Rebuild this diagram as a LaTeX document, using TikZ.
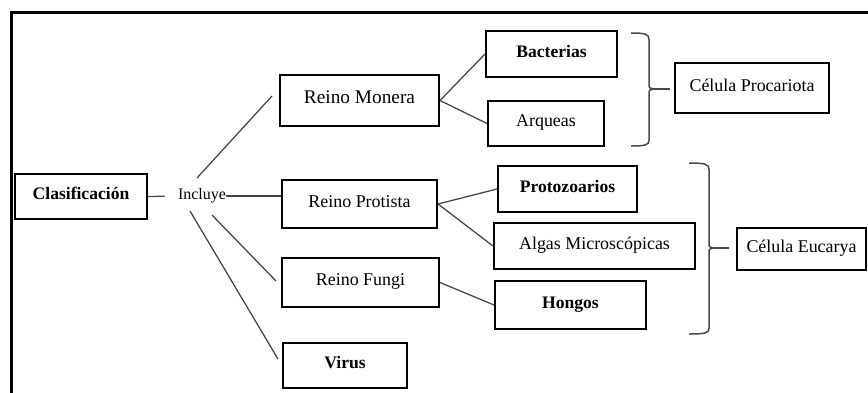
\documentclass[tikz,border=0pt]{standalone}
\usepackage{fontspec}
\setmainfont{Liberation Serif}

\begin{document}
\begin{tikzpicture}
    \definecolor{line_gray}{HTML}{444444}
    \definecolor{brace_gray}{HTML}{4a4a4a}
    \tikzset{
        box/.style={draw=black, line width=0.04cm, inner sep=0pt, text height=1.5ex, text depth=0.7ex, font=\fontsize{10.2}{12}\selectfont},
        boldbox/.style={box, font=\fontsize{10}{12}\selectfont\bfseries},
        link/.style={draw=line_gray, line width=0.025cm},
        curly/.style={draw=brace_gray, line width=0.03cm},
    }
    %\draw[help lines] (0,0) grid (17,7);
    \useasboundingbox (0,0) rectangle (17.36,7.84);

    % outer frame
    \draw[line width=0.06cm] (0.22,-0.1) -- (0.22,7.6) -- (17.5,7.6);

    \node[boldbox, minimum width=2.64cm, minimum height=0.90cm] (clas) at (1.62,3.91) {Clasificación};
    \node[inner sep=0pt, font=\fontsize{9.1}{11}\selectfont] (incl) at (4.04,3.92) {Incluye};

    \node[box, minimum width=3.18cm, minimum height=1.02cm, font=\fontsize{11}{13}\selectfont] (monera) at (7.19,5.83) {Reino Monera};
    \node[box, minimum width=3.10cm, minimum height=0.96cm] (protista) at (7.19,3.76) {Reino Protista};
    \node[box, minimum width=3.14cm, minimum height=0.98cm] (fungi) at (7.21,2.19) {Reino Fungi};
    \node[boldbox, minimum width=2.48cm, minimum height=0.90cm] (virus) at (6.90,0.53) {Virus};

    \node[boldbox, minimum width=2.62cm, minimum height=0.92cm] (bacterias) at (11.03,6.76) {Bacterias};
    \node[box, minimum width=2.32cm, minimum height=0.90cm] (arqueas) at (10.92,5.37) {Arqueas};
    \node[boldbox, minimum width=2.78cm, minimum height=0.92cm] (protozoarios) at (11.35,4.06) {Protozoarios};
    \node[box, minimum width=4.02cm, minimum height=0.92cm] (algas) at (11.89,2.92) {Algas Microscópicas};
    \node[boldbox, minimum width=3.02cm, minimum height=0.96cm] (hongos) at (11.41,1.74) {Hongos};

    \node[box, minimum width=3.08cm, minimum height=1.00cm] (procariota) at (15.04,6.08) {Célula Procariota};
    \node[box, minimum width=2.58cm, minimum height=0.84cm] (eucarya) at (16.03,2.86) {Célula Eucarya};

    % connectors
    \draw[link, shorten >=0.26cm] (clas.east) -- (incl.west);
    \draw[link] (incl.east) -- (incl.east -| protista.west);
    \draw[link] ([shift={(-0.10,0.36)}]incl.center) -- ([shift={(-0.14,0.09)}]monera.west);
    \draw[link] ([shift={(0.20,-0.38)}]incl.center) -- ([shift={(-0.10,0.03)}]fungi.west);
    \draw[link] ([shift={(-0.24,-0.30)}]incl.center) -- ([shift={(-0.08,0.13)}]virus.west);

    \draw[link] (monera.east) -- (bacterias.west);
    \draw[link] (monera.east) -- (arqueas.west);
    \draw[link] (protista.east) -- (protozoarios.west);
    \draw[link] (protista.east) -- (algas.west);
    \draw[link] (fungi.east) -- (hongos.west);

    % braces
    \draw[curly] (12.62,7.18) .. controls (12.9,7.18) and (12.98,7.16) .. (12.98,7.05) -- (12.98,6.16)
        .. controls (12.98,6.08) .. (13.08,6.06) .. controls (12.98,6.04) .. (12.98,5.96) -- (12.98,5.03)
        .. controls (12.98,4.94) and (12.9,4.92) .. (12.62,4.92);
    \coordinate (tip1) at (13.08,6.06);
    \draw[curly, shorten >=0.08cm] (tip1) -- (tip1 -| procariota.west);

    \draw[curly] (13.78,4.58) .. controls (14.1,4.58) and (14.18,4.56) .. (14.18,4.45) -- (14.18,2.98)
        .. controls (14.18,2.90) .. (14.27,2.88) .. controls (14.18,2.86) .. (14.18,2.78) -- (14.18,1.27)
        .. controls (14.18,1.18) and (14.1,1.16) .. (13.78,1.16);
    \coordinate (tip2) at (14.27,2.88);
    \draw[curly, shorten >=0.14cm] (tip2) -- (tip2 -| eucarya.west);

\end{tikzpicture}
\end{document}
